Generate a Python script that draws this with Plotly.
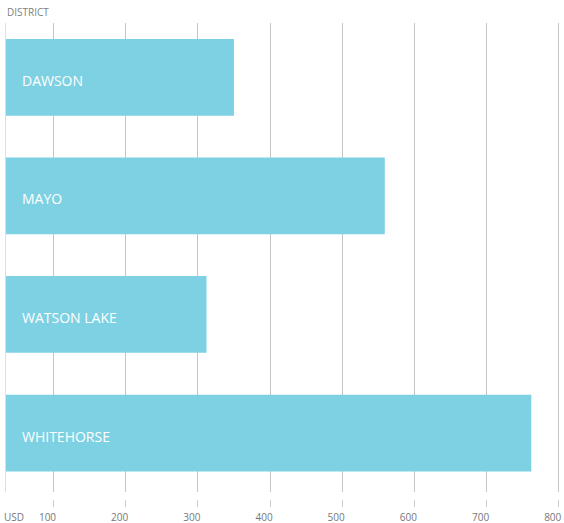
import plotly.graph_objects as go

districts = ["DAWSON", "MAYO", "WATSON LAKE", "WHITEHORSE"]
values = [350, 559, 312, 762]
tick_values = [100, 200, 300, 400, 500, 600, 700, 800]
tick_labels = ["100", "200", "300", "400", "500", "600", "700", "800"]
axis_unit_label = "USD"
axis_title = "DISTRICT"

W, H = 564, 523
L, R, T, B = 6, 0, 23, 24
plot_w = W - L - R
plot_h = H - T - B

fig = go.Figure(
    go.Bar(
        x=values,
        y=districts,
        orientation="h",
        width=0.647,
        marker=dict(color="#7ed1e3", line=dict(width=0)),
        hoverinfo="x+y",
    )
)

annotations = [
    dict(
        text=name,
        x=(20 - L) / plot_w,
        xref="paper",
        xanchor="left",
        y=name,
        yref="y",
        yanchor="middle",
        yshift=-3,
        showarrow=False,
        font=dict(size=14, color="white"),
    )
    for name in districts
]
annotations.append(
    dict(
        text=axis_unit_label,
        x=(14 - L) / plot_w,
        xref="paper",
        xanchor="center",
        y=-(516.5 - (H - B)) / plot_h,
        yref="paper",
        yanchor="middle",
        showarrow=False,
        font=dict(size=10, color="#777777"),
    )
)

fig.update_layout(
    width=W,
    height=H,
    margin=dict(l=L, r=R, t=T, b=B, pad=0, autoexpand=False),
    plot_bgcolor="white",
    paper_bgcolor="white",
    font=dict(family="Open Sans", color="#777777"),
    showlegend=False,
    title=dict(
        text=axis_title,
        x=7 / W,
        xref="container",
        xanchor="left",
        y=1 - 12 / H,
        yref="container",
        yanchor="middle",
        font=dict(size=10, color="#808080"),
        automargin=False,
    ),
    xaxis=dict(
        range=[34.2, 807.3],
        tickvals=tick_values,
        ticktext=tick_labels,
        showgrid=True,
        gridcolor="#c4c4c4",
        gridwidth=1,
        zeroline=False,
        showline=False,
        ticks="outside",
        ticklen=7,
        tickcolor="#cccccc",
        tickwidth=1,
        anchor="free",
        position=0,
        automargin=False,
        tickfont=dict(size=10, color="#777777"),
        ticklabelshift=-6,
        ticklabelstandoff=2,
        ticklabeloverflow="allow",
    ),
    yaxis=dict(
        type="category",
        categoryorder="array",
        categoryarray=districts,
        range=[3.497, -0.458],
        domain=[7 / plot_h, 1],
        showgrid=False,
        zeroline=False,
        showline=True,
        linecolor="#e0e0e0",
        linewidth=1,
        ticks="",
        showticklabels=False,
        automargin=False,
    ),
    annotations=annotations,
)

fig.write_html(
    "out.html",
    config={"displayModeBar": False},
    post_script="document.body.style.margin='0';document.body.style.padding='0';",
)
